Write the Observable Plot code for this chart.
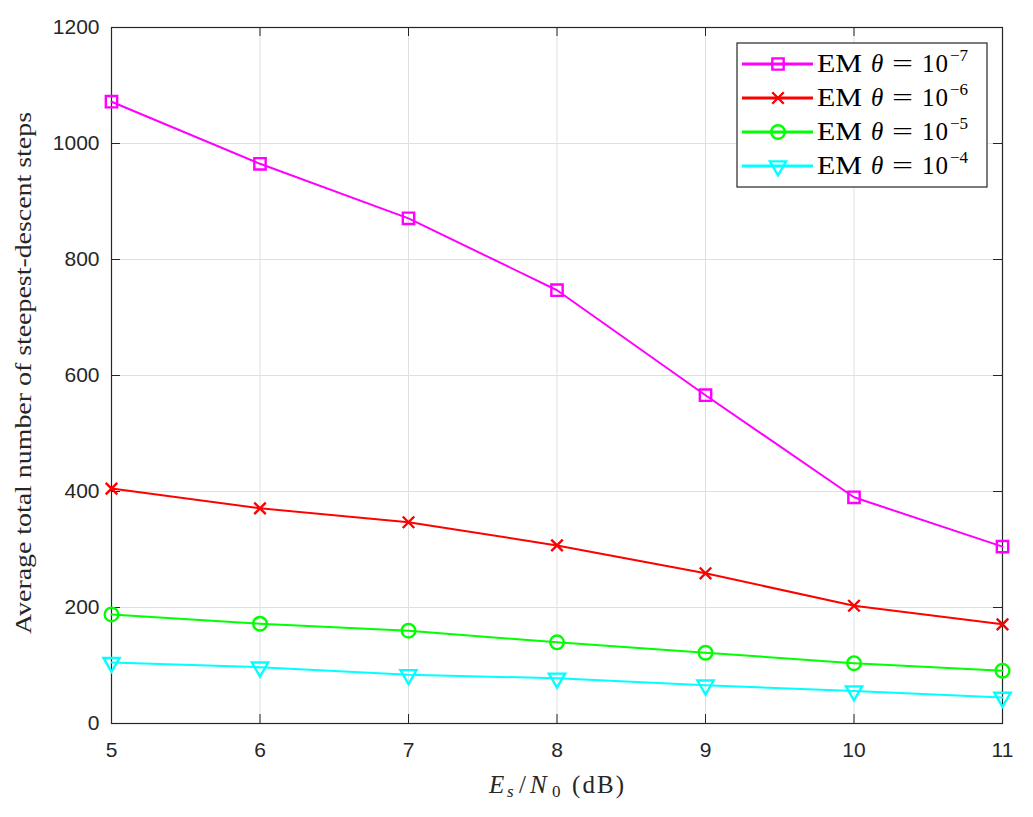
<!DOCTYPE html>
<html><head><meta charset="utf-8">
<script src="https://cdn.jsdelivr.net/npm/d3@7"></script>
<script src="https://cdn.jsdelivr.net/npm/@observablehq/plot@0.6"></script>
<style>body{margin:0;background:#fff}</style>
</head><body><div id="chart"></div>
<script>
const snr = [5, 6, 7, 8, 9, 10, 11];
const theta7 = [1072, 965, 871, 747, 566, 390, 305];
const theta6 = [405, 371, 347, 307, 259, 203, 171];
const theta5 = [188, 172, 160, 140, 122, 104, 91];
const theta4 = [105, 97, 84, 78, 66, 56, 45];
const exponents = ["−7", "−6", "−5", "−4"];
const colors = ["#ff00ff", "#ff0000", "#00ff00", "#00ffff"];
const xTicks = [5, 6, 7, 8, 9, 10, 11];
const yTicks = [0, 200, 400, 600, 800, 1000, 1200];

const triDown = {
  draw(ctx, size) {
    const y = -Math.sqrt(size / (Math.sqrt(3) * 3));
    ctx.moveTo(0, -2 * y);
    ctx.lineTo(-Math.sqrt(3) * y, y);
    ctx.lineTo(Math.sqrt(3) * y, y);
    ctx.closePath();
  }
};
const symbols = ["square", "times", "circle", triDown];
const radii = [6.4, 5.3, 6.8, 6.0];
const seriesVals = [theta7, theta6, theta5, theta4];
const series = seriesVals.map((vals, k) => ({
  color: colors[k], symbol: symbols[k], r: radii[k],
  data: snr.map((x, i) => ({x, y: vals[i]}))
}));

const W = 1033, H = 817, mL = 111, mR = 31, mT = 27, mB = 94;
const pxX = (W - mL - mR) / 6, pxY = (H - mT - mB) / 1200;
const tl = 9;

const marks = [
  Plot.gridX(xTicks.slice(1, -1), {stroke: "#dfdfdf", strokeOpacity: 1}),
  Plot.gridY(yTicks.slice(1, -1), {stroke: "#dfdfdf", strokeOpacity: 1}),
  Plot.ruleX(xTicks, {x: d => d, y1: 0, y2: tl / pxY, stroke: "#262626"}),
  Plot.ruleX(xTicks, {x: d => d, y1: 1200 - tl / pxY, y2: 1200, stroke: "#262626"}),
  Plot.ruleY(yTicks, {y: d => d, x1: 5, x2: 5 + tl / pxX, stroke: "#262626"}),
  Plot.ruleY(yTicks, {y: d => d, x1: 11 - tl / pxX, x2: 11, stroke: "#262626"}),
  Plot.frame({stroke: "#262626", strokeWidth: 1.2}),
  Plot.axisX({ticks: xTicks, tickFormat: d => String(d), tickSize: 0, tickPadding: 19, fontSize: 21, fill: "#262626"}),
  Plot.axisY({ticks: yTicks, tickFormat: d => String(d), tickSize: 0, tickPadding: 12, fontSize: 21, fill: "#262626"})
];
series.forEach(s => {
  marks.push(Plot.line(s.data, {x: "x", y: "y", stroke: s.color, strokeWidth: 2}));
  marks.push(Plot.dot(s.data, {x: "x", y: "y", stroke: s.color, strokeWidth: 2.4, symbol: s.symbol, r: s.r, fill: "none"}));
});

const svgNode = Plot.plot({
  width: W, height: H, marginLeft: mL, marginRight: mR, marginTop: mT, marginBottom: mB,
  x: {domain: [5, 11], label: null},
  y: {domain: [0, 1200], label: null},
  style: {fontFamily: "'Liberation Sans', Arial, sans-serif", fontSize: "21px", color: "#262626", background: "white"},
  marks
});
document.getElementById("chart").appendChild(svgNode);

const svg = d3.select(svgNode);
const serif = "'Liberation Serif', 'Times New Roman', serif";

// x label
const xl = svg.append("text").attr("y", 793).attr("text-anchor", "start")
  .attr("font-family", serif).attr("font-size", 25).attr("fill", "#262626");
xl.append("tspan").attr("x", 489).attr("font-style", "italic").text("E");
xl.append("tspan").attr("x", 507).attr("font-style", "italic").attr("font-size", 17).attr("dy", 4).text("s");
xl.append("tspan").attr("x", 519).attr("dy", -4).text("/");
xl.append("tspan").attr("x", 530).attr("font-style", "italic").text("N");
xl.append("tspan").attr("x", 552).attr("font-size", 17).attr("dy", 4).text("0");
xl.append("tspan").attr("x", 572).attr("dy", -4).text("(dB)")
  .attr("textLength", 52).attr("lengthAdjust", "spacing");

// y label
svg.append("text").attr("transform", "translate(31,373) rotate(-90)").attr("text-anchor", "middle")
  .attr("font-family", serif).attr("font-size", 23).attr("fill", "#262626")
  .attr("textLength", 522).attr("lengthAdjust", "spacingAndGlyphs")
  .text("Average total number of steepest-descent steps");

// legend
const lg = svg.append("g").attr("text-anchor", "start");
lg.append("rect").attr("x", 737).attr("y", 43).attr("width", 250).attr("height", 144)
  .attr("fill", "white").attr("stroke", "#262626").attr("stroke-width", 1.2);
const rowsY = [64, 98, 132, 166];
series.forEach((s, k) => {
  const y = rowsY[k];
  lg.append("line").attr("x1", 742).attr("x2", 813).attr("y1", y).attr("y2", y)
    .attr("stroke", s.color).attr("stroke-width", 3);
  const sym = typeof s.symbol === "string" ? {square: d3.symbolSquare, times: d3.symbolTimes, circle: d3.symbolCircle}[s.symbol] : s.symbol;
  lg.append("path").attr("d", d3.symbol(sym, Math.PI * s.r * s.r)())
    .attr("transform", `translate(778,${y})`).attr("fill", "none")
    .attr("stroke", s.color).attr("stroke-width", 2.4);
  const t = lg.append("text").attr("y", y + 8).attr("font-family", serif)
    .attr("font-size", 25).attr("fill", "#000").attr("text-anchor", "start");
  t.append("tspan").attr("x", 817).text("EM").attr("textLength", 45).attr("lengthAdjust", "spacingAndGlyphs");
  t.append("tspan").attr("x", 871).attr("font-style", "italic").text("θ");
  t.append("tspan").attr("x", 892).text("=").attr("textLength", 21).attr("lengthAdjust", "spacingAndGlyphs");
  t.append("tspan").attr("x", 922).text("10").attr("textLength", 26).attr("lengthAdjust", "spacing");
  t.append("tspan").attr("x", 950).attr("font-size", 17).attr("dy", -11).text(exponents[k]);
});
</script>
</body></html>
